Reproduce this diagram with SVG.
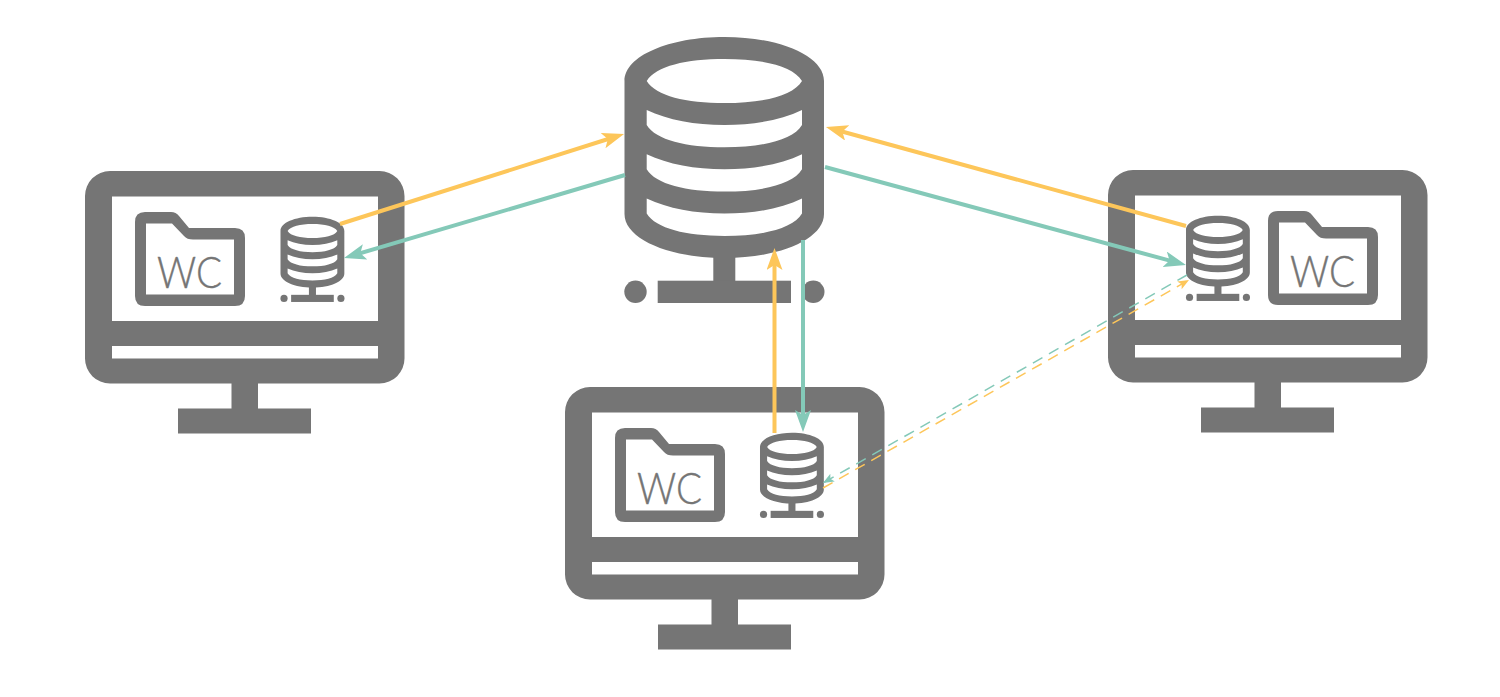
<svg xmlns="http://www.w3.org/2000/svg" width="1500" height="697" viewBox="0 0 1500 697">
<style>
.g{fill:#757575}
.wc{font-family:"Lato","Liberation Sans",sans-serif;font-weight:300;font-size:44px;fill:#757575;stroke:#757575;stroke-width:.4}
.s{fill:none;stroke-width:4}
.d{fill:none;stroke-width:1.5;stroke-dasharray:11 7.500}
.y{stroke:#fdc65a}
.t{stroke:#84c9b8}
</style>
<defs>
<marker id="ay" markerUnits="userSpaceOnUse" markerWidth="24" markerHeight="18" refX="12" refY="8" orient="auto"><path d="M0,0L22,8L0,16L5,8Z" fill="#fdc65a"/></marker>
<marker id="at" markerUnits="userSpaceOnUse" markerWidth="24" markerHeight="18" refX="12" refY="8" orient="auto"><path d="M0,0L22,8L0,16L5,8Z" fill="#84c9b8"/></marker>
<marker id="by" markerUnits="userSpaceOnUse" markerWidth="12" markerHeight="10" refX="11" refY="4.5" orient="auto"><path d="M0,0L11,4.5L0,9L2.5,4.5Z" fill="#fdc65a"/></marker>
<marker id="bt" markerUnits="userSpaceOnUse" markerWidth="12" markerHeight="10" refX="11" refY="4.5" orient="auto"><path d="M0,0L11,4.5L0,9L2.5,4.5Z" fill="#84c9b8"/></marker>
<g id="db">
<path class="g" fill-rule="evenodd" d="M624.5,81C624.5,56 669,37 724.5,37S824,56 824,81V214C824,239 780,258 724.5,258S624.500,239 624.500,214ZM646.700,81C656,66 686,59 724.500,59S793,66 802,81C793,96 763,103 724.500,103S656,96 646.700,81ZM646.700,110C668,120 695,125 724.500,125S781,120 802,110V125C793,140 763,147.300 724.500,147.300S656,140 646.700,125ZM646.700,154.300C668,164.300 695,169.300 724.500,169.300S781,164.300 802,154.300V169.300C793,184.300 763,191.600 724.500,191.600S656,184.300 646.700,169.300ZM646.700,198.600C668,208.600 695,213.600 724.500,213.600S781,208.600 802,198.600V213.600C793,228.600 763,236 724.500,236S656,228.600 646.700,213.600Z"/>
<rect class="g" x="713.3" y="255" width="22" height="30"/>
<rect class="g" x="657.7" y="280.7" width="133.3" height="22.3"/>
<circle class="g" cx="635.5" cy="291.8" r="11.2"/>
<circle class="g" cx="813.3" cy="291.8" r="11.2"/>
</g>
<g id="monitor">
<path class="g" fill-rule="evenodd" d="M25,0H294.500A25,25 0 0 1 319.500,25V187.500A25,25 0 0 1 294.500,212.500H173V237.500H226V262.500H93V237.500H146.500V212.500H25A25,25 0 0 1 0,187.500V25A25,25 0 0 1 25,0ZM27,25.500V150H293V25.500ZM27,175V187.500H293V175Z"/>
</g>
<g id="folder">
<path class="g" fill-rule="evenodd" d="M10,0H36Q41,0 44,4L54,16H100Q110,16 110,26V84Q110,94 100,94H10Q0,94 0,84V10Q0,0 10,0ZM11,11.500V82.500H99V27.500H58Q52,27.500 49,24L37,11.500Z"/>
<text class="wc" x="22" y="75.500" textLength="65" lengthAdjust="spacingAndGlyphs">WC</text>
</g>
</defs>
<g id="server">
<use href="#db"/>
</g>
<g id="client-left">
<use href="#monitor" x="85" y="171"/>
<use href="#folder" x="135" y="212"/>
<use href="#db" transform="translate(80.66 205) scale(.32)"/>
</g>
<g id="client-center">
<use href="#monitor" x="565" y="387"/>
<use href="#folder" x="615" y="428"/>
<use href="#db" transform="translate(560.16 421) scale(.32)"/>
</g>
<g id="client-right">
<use href="#monitor" x="1108" y="170"/>
<use href="#folder" x="1268" y="211"/>
<use href="#db" transform="translate(986.16 204) scale(.32)"/>
</g>
<g id="connectors">
<path class="s y" d="M340,224L614.500,137" marker-end="url(#ay)"/>
<path class="s t" d="M625,175L353.600,255.200" marker-end="url(#at)"/>
<path class="s y" d="M1186,226L835.600,129.700" marker-end="url(#ay)"/>
<path class="s t" d="M825,167L1176.300,262.400" marker-end="url(#at)"/>
<path class="s y" d="M774.500,433V258" marker-end="url(#ay)"/>
<path class="s t" d="M803,240V422" marker-end="url(#at)"/>
<path class="d t" d="M1187,275L823,483" marker-end="url(#bt)"/>
<path class="d y" d="M823,488L1189,280" marker-end="url(#by)"/>
</g>
</svg>
